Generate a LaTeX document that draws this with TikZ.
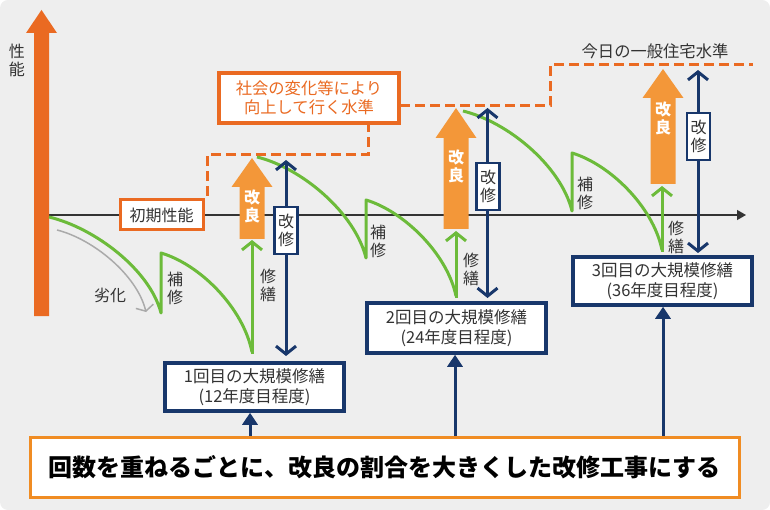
\documentclass[tikz,border=0pt]{standalone}
\usepackage{fontspec}
\setmainfont{Noto Sans CJK JP}
\usetikzlibrary{arrows.meta}
\definecolor{bg}{HTML}{EEEEEE}
\definecolor{dorange}{HTML}{EA6A22}
\definecolor{lorange}{HTML}{F39739}
\definecolor{borange}{HTML}{F08C23}
\definecolor{navy}{HTML}{18376B}
\definecolor{grn}{HTML}{6CBB3A}
\definecolor{txt}{HTML}{333333}
\definecolor{lgray}{HTML}{AAAAAA}
\begin{document}
\begin{tikzpicture}[x=1pt,y=-1pt,
  lbl/.style={text=txt, font=\fontsize{16}{18}\selectfont, align=center, inner sep=0pt},
  navbox/.style={draw=navy, line width=3.5pt, fill=white, text=txt, font=\fontsize{16.5}{19.5}\selectfont, align=center, minimum width=179pt, minimum height=48pt, inner sep=0pt},
  kaibox/.style={draw=navy, line width=2.5pt, fill=white, text=txt, font=\fontsize{16}{18}\selectfont, align=center, minimum width=23pt, minimum height=47pt, inner sep=0pt},
  kailbl/.style={text=white, font=\bfseries\fontsize{16}{18}\selectfont, align=center, inner sep=0pt},
  grnline/.style={draw=grn, line width=3pt, line join=round},
  grnarrow/.style={draw=grn, line width=3pt, -{Straight Barb[length=8pt,width=20pt]}},
  navarrow/.style={draw=navy, line width=3pt, {Straight Barb[length=8pt,width=20pt]}-{Straight Barb[length=8pt,width=20pt]}},
  navup/.style={draw=navy, line width=3pt, -{Triangle[length=12pt,width=15pt]}},
  lvl/.style={draw=dorange, line width=3pt, dash pattern=on 10pt off 5pt},
]
\useasboundingbox (0,0) rectangle (770,510);
\fill[bg, rounded corners=8pt] (0,0) rectangle (770,510);

% axis
\draw[txt, line width=1.2pt, -{Triangle[length=9pt,width=10pt]}] (49,215) coordinate (axs) -- (746,215) coordinate (axe);

% big performance arrow
\fill[dorange] (34,316)--(34,33)--(26,33)--(41.5,10)--(57,33)--(49,33)--(49,316)--cycle;
\node[lbl] (seino) at (17,60) {性\\能};

% level dashed lines
\draw[lvl] (207,196) -- (207,155) -- (368,155) -- (368,124);
\draw[lvl] (400,106) -- (550,106) -- (550,65) -- (753,65);
\node[draw=dorange, line width=4pt, fill=white, text=dorange, font=\fontsize{16.3}{18.5}\selectfont, align=center, minimum width=180pt, minimum height=50pt, inner sep=0pt] (soc) at (309,98) {社会の変化等により\\向上して行く水準};
\node[lbl, font=\fontsize{16.3}{18}\selectfont] (today) at (655,51) {今日の一般住宅水準};

% initial performance label
\node[draw=dorange, line width=3pt, fill=white, text=txt, font=\fontsize{16}{18}\selectfont, minimum width=83pt, minimum height=30pt, inner sep=0pt] (shoki) at (161.5,215) {初期性能};

% deterioration arrow
\draw[lgray, line width=1.5pt, -{Straight Barb[length=5pt,width=18pt]}] (57,230) .. controls (93,239) and (137,275) .. (146,312);
\node[lbl] (rekka) at (110,295) {劣化};

% orange improvement arrows
\fill[lorange] (239.5,239)--(239.5,187)--(231.5,187)--(252,158)--(272.5,187)--(264.5,187)--(264.5,239)--cycle;
\fill[lorange] (443.5,229)--(443.5,138)--(435.5,138)--(456,108)--(476.5,138)--(468.5,138)--(468.5,229)--cycle;
\fill[lorange] (650.5,184)--(650.5,98)--(642.5,98)--(663,69)--(683.5,98)--(675.5,98)--(675.5,184)--cycle;
\node[kailbl] (kr1) at (252,206) {改\\良};
\node[kailbl] (kr2) at (456,166) {改\\良};
\node[kailbl] (kr3) at (663,118) {改\\良};

% green performance curves
\draw[grnline] (49,217) .. controls (95,228) and (150,270) .. (161,313) -- (161,253)
  .. controls (199,264) and (243,307) .. (252,352);
\draw[grnline] (257,157) .. controls (302,168) and (355,213) .. (366,258) -- (366,200)
  .. controls (403,211) and (447,253) .. (456,296);
\draw[grnline] (463,111) .. controls (508,122) and (561,166) .. (572,211) -- (572,153)
  .. controls (609,164) and (653,206) .. (662,250);

% green repair arrows
\coordinate (g1b) at (252,354); \coordinate (g1t) at (252,240);
\coordinate (g2b) at (456,298); \coordinate (g2t) at (456,231);
\coordinate (g3b) at (662,252); \coordinate (g3t) at (662,186);
\draw[grnarrow] (g1b) -- (g1t);
\draw[grnarrow] (g2b) -- (g2t);
\draw[grnarrow] (g3b) -- (g3t);

\node[lbl] (ho1) at (175,288) {補\\修};
\node[lbl] (ho2) at (378,241) {補\\修};
\node[lbl] (ho3) at (585,193) {補\\修};
\node[lbl] (sz1) at (268,285) {修\\繕};
\node[lbl] (sz2) at (471,269) {修\\繕};
\node[lbl] (sz3) at (676,237) {修\\繕};

% navy renovation arrows
\coordinate (k1t) at (286,160); \coordinate (k1b) at (286,356);
\coordinate (k2t) at (487.5,108); \coordinate (k2b) at (487.5,298);
\coordinate (k3t) at (698,70); \coordinate (k3b) at (698,253);
\draw[navarrow] (k1t) -- (k1b);
\draw[navarrow] (k2t) -- (k2b);
\draw[navarrow] (k3t) -- (k3b);
\node[kaibox] (ks1) at (286,230.5) {改\\修};
\node[kaibox] (ks2) at (488,186.5) {改\\修};
\node[kaibox] (ks3) at (698.5,136.5) {改\\修};

% big repair boxes
\node[navbox] (b1) at (254.5,387) {1回目の大規模修繕\\(12年度目程度)};
\node[navbox, minimum height=50pt] (b2) at (456.5,328) {2回目の大規模修繕\\(24年度目程度)};
\node[navbox] (b3) at (662.5,281) {3回目の大規模修繕\\(36年度目程度)};

% bottom message
\node[draw=borange, line width=3pt, fill=white, text=black, font=\bfseries\fontsize{24}{28}\selectfont, minimum width=709pt, minimum height=60pt, inner sep=0pt] (msg) at (384.5,467) {回数を重ねるごとに、改良の割合を大きくした改修工事にする};

\draw[navup] (msg.north -| 250,0) -- (b1.south -| 250,0);
\draw[navup] (msg.north -| 455,0) -- (b2.south -| 455,0);
\draw[navup] (msg.north -| 663,0) -- (b3.south -| 663,0);
\end{tikzpicture}
\end{document}
